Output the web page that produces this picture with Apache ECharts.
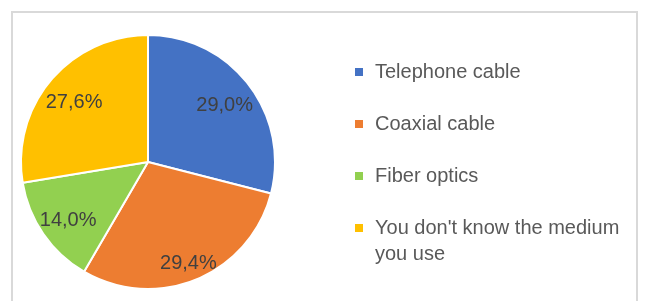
<!DOCTYPE html>
<html>
<head>
<meta charset="utf-8">
<script src="https://cdn.jsdelivr.net/npm/echarts@6/dist/echarts.min.js"></script>
<style>html,body{margin:0;padding:0;background:#fff}#c{width:646px;height:301px}</style>
</head>
<body>
<div id="c"></div>
<script>
const categories = ['Telephone cable', 'Coaxial cable', 'Fiber optics', "You don't know the medium you use"];
const values = [29.0, 29.4, 14.0, 27.6];
const colors = ['#4472C4', '#ED7D31', '#92D050', '#FFC000'];

const FONT = '"Liberation Sans", Arial, sans-serif';
const R = 127;
const CENTER = [148, 162];

const chart = echarts.init(document.getElementById('c'), null, {renderer: 'canvas'});
const pieData = categories.map((n, i) => ({name: n, value: values[i], itemStyle: {color: colors[i]}}));
const legendText = {fontFamily: FONT, fontSize: 20, color: '#595959', lineHeight: 26};

chart.setOption({
  animation: false,
  graphic: [{
    type: 'rect', silent: true, z: -10,
    shape: {x: 12, y: 12, width: 625, height: 300},
    style: {fill: '#fff', stroke: '#d9d9d9', lineWidth: 2}
  }],
  legend: [{
    orient: 'vertical', left: 353, top: 59, padding: 0,
    itemWidth: 10, itemHeight: 10, itemGap: 26, icon: 'rect',
    data: categories.slice(0, 3),
    selectedMode: false,
    textStyle: Object.assign({padding: [0, 0, 0, 6]}, legendText)
  }, {
    orient: 'vertical', left: 353, top: 189, padding: 0,
    itemWidth: 10, itemHeight: 10, icon: 'rect',
    data: categories.slice(3),
    selectedMode: false,
    formatter: name => '{t|' + name + '}',
    textStyle: Object.assign({padding: [26, 0, 0, 6], width: 262, overflow: 'break',
      rich: {t: Object.assign({}, legendText)}}, legendText)
  }],
  series: [{
    type: 'pie', center: CENTER, radius: R, startAngle: 90, clockwise: true,
    data: pieData,
    itemStyle: {borderColor: '#fff', borderWidth: 2},
    label: {show: false}, labelLine: {show: false},
    emphasis: {disabled: true}
  }, {
    type: 'pie', center: CENTER, radius: R * 1.48, startAngle: 90, clockwise: true,
    data: categories.map((n, i) => ({name: n, value: values[i],
      label: i === 1 ? {offset: [3, 12]} : undefined})),
    itemStyle: {color: 'rgba(0,0,0,0)', borderWidth: 0},
    silent: true, z: 5,
    label: {
      show: true, position: 'inside', fontFamily: FONT, fontSize: 20, color: '#404040', offset: [0, 3],
      formatter: p => p.value.toFixed(1).replace('.', ',') + '%'
    },
    labelLine: {show: false},
    emphasis: {disabled: true}
  }]
});
</script>
</body>
</html>
